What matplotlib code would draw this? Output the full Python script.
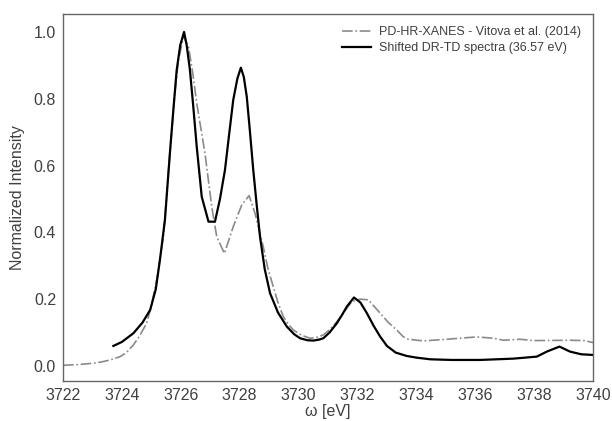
import matplotlib
matplotlib.use('Agg')
from matplotlib import pyplot as plt

exp_x = [3722.0, 3722.5, 3723.0, 3723.3, 3723.6, 3723.94, 3724.15, 3724.39, 3724.6,
         3724.84, 3725.0, 3725.18, 3725.41, 3725.63, 3725.8, 3725.92, 3726.09,
         3726.26, 3726.4, 3726.54, 3726.82, 3727.05, 3727.22, 3727.48, 3727.78,
         3728.07, 3728.32, 3728.52, 3728.80, 3728.95, 3729.14, 3729.3, 3729.48,
         3729.65, 3729.82, 3730.1, 3730.39, 3730.6, 3730.84, 3731.1, 3731.35,
         3731.6, 3731.81, 3732.09, 3732.37, 3732.55, 3732.77, 3733.05, 3733.33,
         3733.55, 3733.73, 3734.24, 3735.03, 3736.05, 3736.62, 3736.96, 3737.52,
         3737.98, 3739.22, 3739.7, 3740.0]
exp_y = [0.002, 0.004, 0.008, 0.012, 0.018, 0.028, 0.040, 0.063, 0.090,
         0.128, 0.180, 0.257, 0.387, 0.638, 0.820, 0.916, 0.986,
         0.956, 0.880, 0.787, 0.637, 0.477, 0.387, 0.337, 0.417,
         0.482, 0.510, 0.457, 0.357, 0.295, 0.237, 0.190, 0.148,
         0.125, 0.108, 0.092, 0.083, 0.085, 0.093, 0.112, 0.138,
         0.168, 0.193, 0.200, 0.198, 0.180, 0.158, 0.130, 0.108,
         0.088, 0.080, 0.075, 0.080, 0.087, 0.083, 0.077, 0.080,
         0.076, 0.077, 0.076, 0.070]

calc_x = [3723.71, 3724.0, 3724.39, 3724.7, 3724.96, 3725.15, 3725.29, 3725.46,
          3725.63, 3725.75, 3725.86, 3725.98, 3726.11, 3726.2, 3726.31, 3726.43,
          3726.54, 3726.71, 3726.94, 3727.16, 3727.33, 3727.50, 3727.65, 3727.78,
          3727.92, 3728.04, 3728.14, 3728.24, 3728.35, 3728.46, 3728.58, 3728.69,
          3728.85, 3729.03, 3729.3, 3729.60, 3729.85, 3730.05, 3730.3, 3730.50,
          3730.7, 3730.84, 3731.05, 3731.30, 3731.47, 3731.64, 3731.88, 3732.1,
          3732.32, 3732.55, 3732.77, 3733.0, 3733.3, 3733.67, 3734.0, 3734.47,
          3735.2, 3736.16, 3737.30, 3738.09, 3738.43, 3738.86, 3739.22, 3739.6,
          3740.0]
calc_y = [0.060, 0.072, 0.098, 0.130, 0.168, 0.230, 0.317, 0.437,
          0.638, 0.770, 0.886, 0.960, 1.000, 0.960, 0.886, 0.770,
          0.657, 0.507, 0.432, 0.432, 0.500, 0.587, 0.700, 0.796,
          0.860, 0.893, 0.865, 0.806, 0.700, 0.587, 0.480, 0.387,
          0.290, 0.218, 0.160, 0.118, 0.095, 0.083, 0.077, 0.076,
          0.079, 0.083, 0.100, 0.128, 0.152, 0.178, 0.205, 0.190,
          0.158, 0.120, 0.088, 0.060, 0.040, 0.030, 0.025, 0.020,
          0.018, 0.018, 0.022, 0.028, 0.043, 0.058, 0.043, 0.035,
          0.033]

plt.rcParams['font.family'] = ['Liberation Sans', 'DejaVu Sans']
txt = '0.25'

fig = plt.figure(figsize=(6.12, 4.21), dpi=100)
ax = fig.add_axes([0.103, 0.095, 0.866, 0.872])
ax.plot(exp_x, exp_y, linestyle='-.', color='#8a8a8a', lw=1.2,
        label='PD-HR-XANES - Vitova et al. (2014)')
ax.plot(calc_x, calc_y, color='black', lw=1.6,
        label='Shifted DR-TD spectra (36.57 eV)')

ax.set_xlim(3722, 3740)
ax.set_ylim(-0.045, 1.054)
ax.set_xticks(range(3722, 3741, 2))
ax.set_yticks([0.0, 0.2, 0.4, 0.6, 0.8, 1.0])
ax.tick_params(length=0, pad=5, labelsize=11.5, labelcolor=txt)
for s in ax.spines.values():
    s.set_color('0.4')
    s.set_linewidth(1.0)
ax.set_xlabel('ω [eV]', fontsize=11.5, color=txt, labelpad=1)
ax.set_ylabel('Normalized Intensity', fontsize=11.5, color=txt, labelpad=6)

leg = ax.legend(loc='upper right', frameon=False, fontsize=9, handlelength=2.3,
                handletextpad=0.6, labelspacing=0.3, borderaxespad=0.6)
for t in leg.get_texts():
    t.set_color(txt)

plt.savefig('out.png', dpi=100)
